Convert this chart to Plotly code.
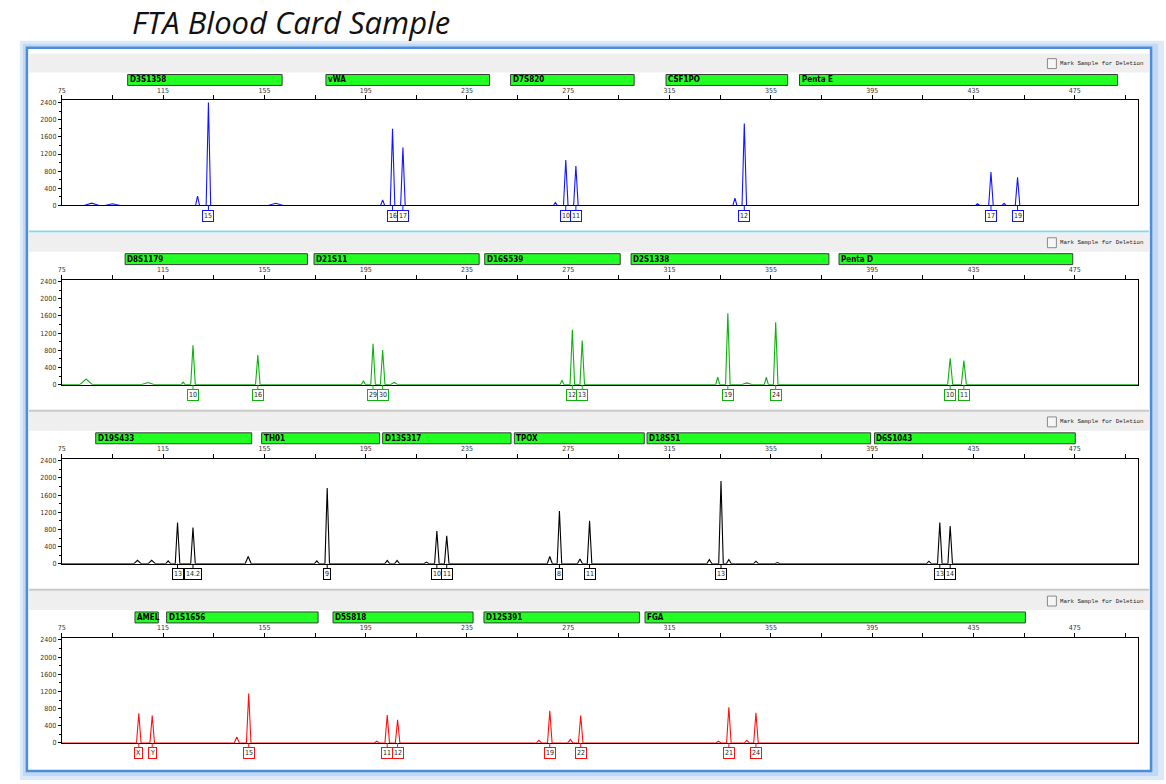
import plotly.graph_objects as go

W, H = 1166, 784

# ---------------- data ----------------
size_ticks = [75, 115, 155, 195, 235, 275, 315, 355, 395, 435, 475]
rfu_ticks = [0, 400, 800, 1200, 1600, 2000, 2400]

# Panel 1 - blue dye
blue_loci = ["D3S1358", "vWA", "D7S820", "CSF1PO", "Penta E"]
blue_locus_start = [101.0, 179.3, 252.2, 313.6, 366.3]
blue_locus_end = [162.0, 243.9, 301.0, 361.6, 491.9]
blue_peak_size = [86.8, 95.0, 128.6, 132.9, 159.5, 201.7, 205.6, 209.7, 269.9, 274.0, 278.0, 340.8, 344.5, 436.6, 441.9, 447.1, 452.4]
blue_peak_rfu = [55, 40, 220, 2400, 50, 130, 1790, 1350, 70, 1060, 920, 170, 1910, 40, 780, 50, 660]
blue_peak_halfwidth = [3, 3, 0.8, 0.9, 3, 0.8, 0.9, 0.9, 0.8, 0.9, 0.9, 0.8, 0.9, 0.8, 0.9, 0.8, 0.9]
blue_allele_size = [132.9, 205.6, 209.7, 274.0, 278.0, 344.5, 441.9, 452.4]
blue_allele_label = ["15", "16", "17", "10", "11", "12", "17", "19"]

# Panel 2 - green dye
green_loci = ["D8S1179", "D21S11", "D16S539", "D2S1338", "Penta D"]
green_locus_start = [100.0, 174.6, 242.0, 299.8, 381.9]
green_locus_end = [172.0, 239.8, 295.5, 377.9, 474.2]
green_peak_size = [84.6, 109.0, 122.9, 126.8, 152.4, 194.1, 197.9, 201.7, 206.2, 272.5, 276.6, 280.5, 334.0, 338.0, 345.5, 353.2, 356.9, 425.8, 431.2]
green_peak_rfu = [130, 50, 60, 920, 690, 90, 955, 805, 50, 100, 1280, 1030, 175, 1665, 40, 175, 1455, 615, 560]
green_peak_halfwidth = [2.5, 2.5, 0.8, 0.9, 0.9, 0.8, 0.9, 0.9, 1.5, 0.8, 0.9, 0.9, 0.8, 0.9, 2.0, 0.8, 0.9, 1.0, 1.0]
green_allele_size = [126.8, 152.4, 197.9, 201.7, 276.6, 280.5, 338.0, 356.9, 425.8, 431.2]
green_allele_label = ["10", "16", "29", "30", "12", "13", "19", "24", "10", "11"]

# Panel 3 - black (yellow) dye
black_loci = ["D19S433", "TH01", "D13S317", "TPOX", "D18S51", "D6S1043"]
black_locus_start = [88.4, 153.9, 201.7, 253.7, 306.1, 395.9]
black_locus_end = [150.0, 200.5, 252.4, 305.0, 394.4, 475.2]
black_peak_size = [104.9, 110.5, 117.0, 120.7, 126.8, 148.6, 175.7, 179.8, 203.5, 207.4, 219.0, 223.1, 227.0, 267.7, 271.5, 279.6, 283.4, 330.7, 335.3, 338.4, 349.1, 357.6, 417.4, 421.7, 425.8]
black_peak_rfu = [80, 80, 70, 960, 845, 170, 70, 1765, 80, 80, 40, 765, 650, 170, 1230, 110, 1000, 100, 1930, 100, 60, 30, 60, 960, 880]
black_peak_halfwidth = [1.5, 1.5, 1.0, 0.9, 0.9, 1.2, 1.0, 0.9, 1.0, 1.0, 1.0, 0.9, 0.9, 1.0, 0.9, 1.0, 0.9, 1.0, 0.9, 1.0, 1.0, 1.0, 1.0, 0.9, 0.9]
black_allele_size = [120.7, 126.8, 179.8, 223.1, 227.0, 271.5, 283.4, 335.3, 421.7, 425.8]
black_allele_label = ["13", "14.2", "9", "10", "11", "8", "11", "13", "13", "14"]

# Panel 4 - red dye
red_loci = ["AMEL", "D1S1656", "D5S818", "D12S391", "FGA"]
red_locus_start = [103.9, 116.4, 182.1, 241.7, 305.3]
red_locus_end = [113.1, 176.2, 237.4, 303.1, 455.5]
red_peak_size = [105.4, 110.7, 144.1, 148.8, 199.4, 203.5, 207.6, 263.4, 267.7, 275.8, 279.9, 334.3, 338.4, 345.5, 349.1]
red_peak_rfu = [690, 640, 140, 1150, 40, 650, 540, 60, 750, 80, 640, 40, 830, 60, 705]
red_peak_halfwidth = [0.9, 0.9, 1.0, 0.9, 1.0, 0.9, 0.9, 1.0, 0.9, 1.0, 0.9, 1.0, 0.9, 1.0, 0.9]
red_allele_size = [105.4, 110.7, 148.8, 203.5, 207.6, 267.7, 279.9, 338.4, 349.1]
red_allele_label = ["X", "Y", "15", "11", "12", "19", "22", "21", "24"]

panels = [
    dict(color="#1414ff", loci=blue_loci, ls=blue_locus_start, le=blue_locus_end,
         ps=blue_peak_size, pr=blue_peak_rfu, pw=blue_peak_halfwidth,
         asz=blue_allele_size, alb=blue_allele_label, sep="#86d8ea"),
    dict(color="#10b010", loci=green_loci, ls=green_locus_start, le=green_locus_end,
         ps=green_peak_size, pr=green_peak_rfu, pw=green_peak_halfwidth,
         asz=green_allele_size, alb=green_allele_label, sep="#c8c8c8"),
    dict(color="#000000", loci=black_loci, ls=black_locus_start, le=black_locus_end,
         ps=black_peak_size, pr=black_peak_rfu, pw=black_peak_halfwidth,
         asz=black_allele_size, alb=black_allele_label, sep="#c8c8c8"),
    dict(color="#ff1010", loci=red_loci, ls=red_locus_start, le=red_locus_end,
         ps=red_peak_size, pr=red_peak_rfu, pw=red_peak_halfwidth,
         asz=red_allele_size, alb=red_allele_label, sep=None),
]

# ---------------- layout helpers ----------------
def fx(p):
    return p / W

def fy(p):
    return 1 - p / H

X0, X1 = 58, 1138
TOP0, STEP, PH = 100.0, 180.3, 105.8
XMIN, XMAX = 75, 500

NARROW = "Liberation Sans Narrow, Arial Narrow, DejaVu Sans Condensed, sans-serif"

fig = go.Figure()
shapes = []
annotations = []

# outer glow and frame
shapes.append(dict(type="rect", xref="paper", yref="paper", x0=fx(16), x1=fx(1164), y0=fy(784), y1=fy(40),
                   fillcolor="#dce9f8", line=dict(width=0), layer="below"))
shapes.append(dict(type="rect", xref="paper", yref="paper", x0=fx(19), x1=fx(1158), y0=fy(780), y1=fy(43),
                   fillcolor="#c2d9f3", line=dict(width=0), layer="below"))
shapes.append(dict(type="rect", xref="paper", yref="paper", x0=fx(23), x1=fx(1151), y0=fy(775), y1=fy(47),
                   fillcolor="white", line=dict(color="#4d8ddb", width=2.5), layer="below"))

# title
annotations.append(dict(xref="paper", yref="paper", x=fx(288), y=fy(21), xanchor="center", yanchor="middle",
                        text="<i>FTA Blood Card Sample</i>", showarrow=False,
                        font=dict(family="Open Sans, sans-serif", size=31, color="#111111")))

layout_axes = {}
for i, P in enumerate(panels):
    T = TOP0 + STEP * i
    B = T + PH
    n = "" if i == 0 else str(i + 1)
    xa, ya = "x" + n, "y" + n

    # header strip + checkbox text
    shapes.append(dict(type="rect", xref="paper", yref="paper", x0=fx(25), x1=fx(1149), y0=fy(T - 28), y1=fy(T - 47),
                       fillcolor="#efefef", line=dict(width=0), layer="below"))
    shapes.append(dict(type="rect", xref="paper", yref="paper", x0=fx(1047), x1=fx(1056), y0=fy(T - 32), y1=fy(T - 42),
                       fillcolor="#f6f6f6", line=dict(color="#8a8a8a", width=1), layer="below"))
    annotations.append(dict(xref="paper", yref="paper", x=fx(1058), y=fy(T - 37), xanchor="left", yanchor="middle",
                            text="Mark Sample for Deletion", showarrow=False,
                            font=dict(family="Liberation Mono, DejaVu Sans Mono, monospace", size=5.8, color="#222")))
    if P["sep"]:
        shapes.append(dict(type="line", xref="paper", yref="paper", x0=fx(25), x1=fx(1149), y0=fy(T + 132), y1=fy(T + 132),
                           line=dict(color=P["sep"], width=2), layer="below"))

    # locus bars
    for name, s, e in zip(P["loci"], P["ls"], P["le"]):
        shapes.append(dict(type="rect", xref=xa, yref="paper", x0=s, x1=e, y0=fy(T - 15), y1=fy(T - 26),
                           fillcolor="#22ff22", line=dict(color="#3c3c3c", width=1), layer="above"))
        annotations.append(dict(xref=xa, yref="paper", x=s, y=fy(T - 20.5), xanchor="left", yanchor="middle",
                                xshift=0, text="<b>" + name + "</b>", showarrow=False,
                                font=dict(family=NARROW, size=8, color="#000")))

    # electropherogram trace built from the peak table
    pk = sorted(zip(P["ps"], P["pr"], P["pw"]))
    xs, ys = [XMIN], [0]
    for s, h, w in pk:
        xs += [s - w, s, s + w]
        ys += [0, h, 0]
    xs.append(XMAX)
    ys.append(0)
    fig.add_trace(go.Scatter(x=xs, y=ys, mode="lines", line=dict(color=P["color"], width=1.1),
                             xaxis=xa, yaxis=ya, hoverinfo="skip", showlegend=False))

    # allele call labels
    for s, lab in zip(P["asz"], P["alb"]):
        shapes.append(dict(type="line", xref=xa, yref="paper", x0=s, x1=s, y0=fy(B), y1=fy(B + 5),
                           line=dict(color=P["color"], width=1)))
        annotations.append(dict(xref=xa, yref="paper", x=s, y=fy(B + 10.5), xanchor="center", yanchor="middle",
                                text=lab, showarrow=False, bgcolor="white", bordercolor=P["color"],
                                borderwidth=1, borderpad=1,
                                font=dict(family=NARROW, size=7, color="#222")))

    layout_axes["xaxis" + n] = dict(
        domain=[fx(X0), fx(X1)], range=[XMIN, XMAX], anchor=ya, side="top",
        tickmode="array", tickvals=size_ticks, ticktext=[str(v) for v in size_ticks],
        ticks="outside", ticklen=4, tickcolor="#000", tickwidth=1,
        minor=dict(tickmode="linear", tick0=95, dtick=40, ticks="outside", ticklen=4, tickcolor="#000"),
        showline=True, linecolor="#000", linewidth=1, mirror=True,
        showgrid=False, zeroline=False, fixedrange=True,
        tickfont=dict(family=NARROW, size=7, color="#333"))
    layout_axes["yaxis" + n] = dict(
        domain=[fy(B), fy(T)], range=[0, 2450], anchor=xa,
        tickmode="array", tickvals=rfu_ticks, ticktext=[str(v) for v in rfu_ticks],
        ticks="outside", ticklen=3, tickcolor="#000", tickwidth=1,
        minor=dict(tickmode="linear", tick0=200, dtick=400, ticks="outside", ticklen=2, tickcolor="#000"),
        showline=True, linecolor="#000", linewidth=1, mirror=True,
        showgrid=False, zeroline=False, fixedrange=True,
        tickfont=dict(family=NARROW, size=7, color="#333"))

fig.update_layout(
    width=W, height=H, margin=dict(l=0, r=0, t=0, b=0),
    paper_bgcolor="white", plot_bgcolor="rgba(0,0,0,0)",
    shapes=shapes, annotations=annotations, showlegend=False,
    **layout_axes)

fig.write_html("out.html", config={"displayModeBar": False},
               post_script="document.body.style.margin='0px';document.body.style.overflow='hidden';")
